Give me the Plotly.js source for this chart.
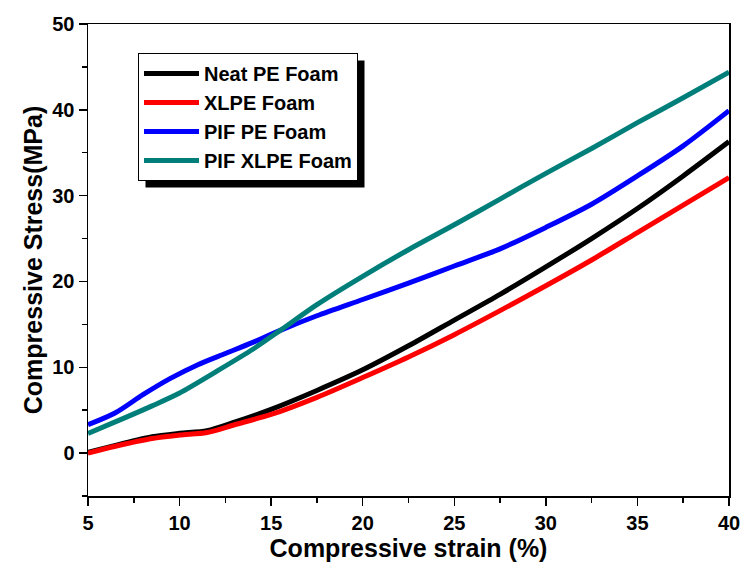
<!DOCTYPE html>
<html>
<head>
<meta charset="utf-8">
<script src="https://cdn.plot.ly/plotly-3.0.1.min.js"></script>
<style>html,body{margin:0;padding:0;background:#fff;}#chart{width:744px;height:570px;}</style>
</head>
<body>
<div id="chart"></div>
<script>
const neatX = [5, 6.5, 8.5, 10, 11.5, 13, 15, 17.5, 20, 22.5, 25, 27.5, 30, 32.5, 35, 37.5, 40];
const neatY = [0.1, 0.9, 1.9, 2.3, 2.6, 3.6, 5.1, 7.3, 9.7, 12.5, 15.5, 18.5, 21.7, 25.0, 28.5, 32.3, 36.3];
const xlpeX = [5, 6.5, 8.5, 10, 11.5, 13, 15, 17.5, 20, 22.5, 25, 27.5, 30, 32.5, 35, 37.5, 40];
const xlpeY = [0.0, 0.8, 1.7, 2.1, 2.4, 3.3, 4.5, 6.5, 8.8, 11.2, 13.8, 16.6, 19.5, 22.5, 25.7, 28.9, 32.1];
const pifPeX = [5, 6.5, 8, 9.5, 11, 12.5, 14, 15.5, 17.5, 20, 22.5, 25, 27.5, 30, 32.5, 35, 37.5, 40];
const pifPeY = [3.3, 4.7, 6.8, 8.7, 10.3, 11.6, 12.9, 14.3, 16.0, 17.9, 19.8, 21.8, 23.8, 26.3, 29.0, 32.3, 35.8, 39.9];
const pifXlpeX = [5, 7, 8.5, 10, 12, 14, 15.5, 17.5, 20, 22.5, 25, 27.5, 30, 32.5, 35, 37.5, 40];
const pifXlpeY = [2.3, 4.1, 5.5, 7.0, 9.5, 12.1, 14.3, 17.3, 20.6, 23.7, 26.6, 29.6, 32.6, 35.5, 38.5, 41.4, 44.4];
const seriesNames = ["Neat PE Foam", "XLPE Foam", "PIF PE Foam", "PIF XLPE Foam"];
const xTicks = [5, 10, 15, 20, 25, 30, 35, 40];
const yTicks = [0, 10, 20, 30, 40, 50];

const colors = ["#000000", "#ff0000", "#0000ff", "#007f7a"];
const xs = [neatX, xlpeX, pifPeX, pifXlpeX];
const ys = [neatY, xlpeY, pifPeY, pifXlpeY];
const traces = seriesNames.map((n, i) => ({
  x: xs[i], y: ys[i], name: n, type: 'scatter', mode: 'lines',
  line: {color: colors[i], width: 5, shape: 'spline', smoothing: 0.8}
}));

const FONT = "Liberation Sans, Arial, sans-serif";
const axBase = {
  showline: true, linecolor: '#000', linewidth: 1.5, mirror: true,
  ticks: 'outside', ticklen: 8, tickwidth: 1.5, tickcolor: '#000',
  showgrid: false, zeroline: false,
  tickfont: {family: FONT, size: 20, color: '#000', weight: 'bold'},
  minor: {ticks: 'outside', ticklen: 5, tickwidth: 1.5, tickcolor: '#000', showgrid: false}
};

const PL = 88, PT = 24, PW = 641, PH = 472;

const layout = {
  width: 744, height: 570,
  margin: {l: PL, r: 744 - PL - PW, t: PT, b: 570 - PT - PH},
  paper_bgcolor: '#fff', plot_bgcolor: '#fff',
  showlegend: true,
  xaxis: Object.assign({}, axBase, {
    range: [5, 40], tickvals: xTicks, ticktext: xTicks.map(String),
    minor: Object.assign({}, axBase.minor, {dtick: 2.5, tick0: 5}),
    title: {text: 'Compressive strain (%)', font: {family: FONT, size: 25, color: '#000', weight: 'bold'}, standoff: 6}
  }),
  yaxis: Object.assign({}, axBase, {
    range: [-5, 50], tickvals: yTicks, ticktext: yTicks.map(String),
    minor: Object.assign({}, axBase.minor, {dtick: 5, tick0: 0}),
    title: {text: 'Compressive Stress(MPa)', font: {family: FONT, size: 25, color: '#000', weight: 'bold'}, standoff: 2}
  }),
  legend: {
    x: (138 - PL) / PW, y: (PT + PH - 53) / PH, xanchor: 'left', yanchor: 'top',
    bgcolor: '#fff', bordercolor: '#000', borderwidth: 1,
    font: {family: FONT, size: 20, color: '#000', weight: 'bold'},
    tracegroupgap: 0, itemwidth: 55
  },
  shapes: [{
    type: 'rect', xref: 'paper', yref: 'paper', layer: 'above',
    x0: (145 - PL) / PW, x1: (372 - PL) / PW,
    y0: (PT + PH - 176) / PH, y1: (PT + PH - 60) / PH,
    fillcolor: '#000', line: {width: 0}
  }]
};

Plotly.newPlot('chart', traces, layout, {displayModeBar: false, staticPlot: true}).then(gd => {
  const bg = gd.querySelector('.legend .bg');
  if (!bg) return;
  const r = bg.getBoundingClientRect();
  const c = gd.getBoundingClientRect();
  const left = r.left - c.left, top = r.top - c.top, right = r.right - c.left, bottom = r.bottom - c.top;
  const off = 7;
  return Plotly.relayout(gd, {
    'shapes[0].x0': (left + off - PL) / PW,
    'shapes[0].x1': (right + off - PL) / PW,
    'shapes[0].y0': (PT + PH - (bottom + off)) / PH,
    'shapes[0].y1': (PT + PH - (top + off)) / PH
  });
});
</script>
</body>
</html>
